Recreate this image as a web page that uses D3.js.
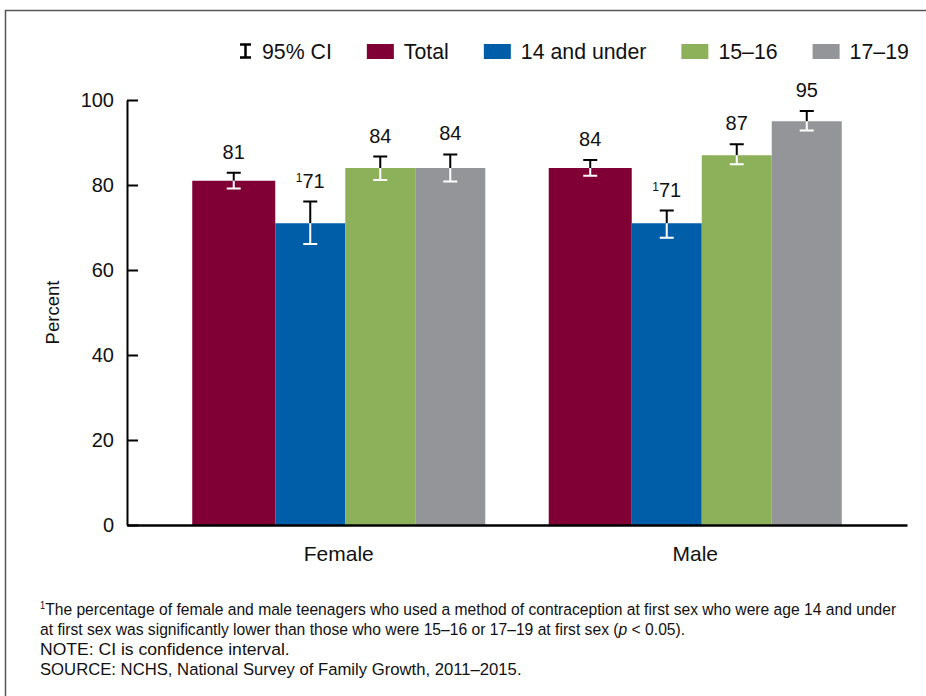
<!DOCTYPE html>
<html>
<head>
<meta charset="utf-8">
<script src="https://cdn.jsdelivr.net/npm/d3@7/dist/d3.min.js"></script>
<style>
  html, body { margin: 0; padding: 0; background: #fff; }
  svg { display: block; font-family: "Liberation Sans", Arial, Helvetica, sans-serif; }
  .note { font-family: "Liberation Sans Narrow", "Arial Narrow", "Liberation Sans", Arial, sans-serif; font-size: 17px; fill: #111; }
</style>
</head>
<body>
<svg id="chart" width="926" height="696"></svg>
<script>
// Contraceptive use at first sex, by sex and age at first sex
const categories = ["Female", "Male"];
const seriesNames = ["Total", "14 and under", "15–16", "17–19"];
const femaleValues = [81, 71, 84, 84];
const maleValues = [84, 71, 87, 95];
const femaleLower = [79.2, 66.1, 81.2, 80.8];
const femaleUpper = [82.9, 76.1, 86.7, 87.2];
const maleLower = [82.2, 67.6, 84.9, 92.8];
const maleUpper = [85.9, 74.0, 89.6, 97.4];
const footnoteFlags = [false, true, false, false];
const yTicks = [0, 20, 40, 60, 80, 100];
const seriesColors = ["#800036", "#005ea9", "#8db15a", "#949598"];

// Layout constants
const barWeights = [83, 70, 70, 70];   // the total bar is drawn a little wider
const plot = { left: 127, right: 907, top: 100, bottom: 525 };
const noteWidths = [857, 646, 250, 482]; // condensed footnote line widths

const rows = categories.map((c, i) => ({
  category: c,
  values: i === 0 ? femaleValues : maleValues,
  lower: i === 0 ? femaleLower : maleLower,
  upper: i === 0 ? femaleUpper : maleUpper
}));

const svg = d3.select("#chart");

// outer frame
svg.append("rect")
  .attr("x", 5.5).attr("y", 10.5).attr("width", 960).attr("height", 720)
  .attr("fill", "none").attr("stroke", "#555").attr("stroke-width", 1.5);

const y = d3.scaleLinear().domain([0, 100]).range([plot.bottom, plot.top]);
const x0 = d3.scaleBand().domain(categories)
  .range([plot.left, plot.right]).paddingInner(0.178).paddingOuter(0.183);

// inner positions from cumulative bar weights
const cum = [0];
barWeights.forEach(w => cum.push(cum[cum.length - 1] + w));
const x1 = d3.scaleLinear().domain([0, cum[cum.length - 1]]).range([0, x0.bandwidth()]);

const bars = [];
rows.forEach(r => {
  seriesNames.forEach((s, j) => {
    const xa = x0(r.category) + x1(cum[j]);
    const xb = x0(r.category) + x1(cum[j + 1]);
    bars.push({ series: s, j, value: r.values[j], lo: r.lower[j], hi: r.upper[j], xa, xb, cx: (xa + xb) / 2 });
  });
});

// bars
svg.append("g").selectAll("rect").data(bars).join("rect")
  .attr("x", d => d.xa).attr("y", d => y(d.value))
  .attr("width", d => d.xb - d.xa).attr("height", d => y(0) - y(d.value))
  .attr("fill", d => seriesColors[d.j]);

// error bars: black above the bar, white where they cross it
const capHalf = 7;
const eb = svg.append("g").attr("stroke-width", 2).attr("fill", "none");
eb.selectAll(".ebTop").data(bars).join("path")
  .attr("stroke", "#000")
  .attr("d", d => `M${d.cx - capHalf},${y(d.hi)}H${d.cx + capHalf}M${d.cx},${y(d.hi)}V${y(d.value)}`);
eb.selectAll(".ebBot").data(bars).join("path")
  .attr("stroke", "#fff")
  .attr("d", d => `M${d.cx},${y(d.value)}V${y(d.lo)}M${d.cx - capHalf},${y(d.lo)}H${d.cx + capHalf}`);

// value labels
const lbl = svg.append("g").attr("font-size", 20).attr("fill", "#111").attr("text-anchor", "middle");
lbl.selectAll("text").data(bars).join("text")
  .attr("x", d => d.cx).attr("y", d => y(d.hi) - 14)
  .each(function (d) {
    const t = d3.select(this);
    if (footnoteFlags[d.j]) {
      t.append("tspan").attr("font-size", 12).attr("dy", -6).text("1");
      t.append("tspan").attr("dy", 6).text(d.value);
    } else {
      t.text(d.value);
    }
  });

// y axis
const yAxis = d3.axisLeft(y).tickValues(yTicks).tickSizeInner(-11).tickSizeOuter(0).tickPadding(13);
const gy = svg.append("g").attr("transform", `translate(${plot.left},0)`).call(yAxis);
gy.select(".domain").attr("stroke", "#000").attr("stroke-width", 2);
gy.selectAll(".tick line").attr("stroke", "#000").attr("stroke-width", 2);
gy.selectAll(".tick text").attr("font-size", 20).attr("fill", "#111")
  .attr("font-family", "Liberation Sans, Arial, sans-serif");

// x axis
const xAxis = d3.axisBottom(x0).tickSize(0).tickPadding(21);
const gx = svg.append("g").attr("transform", `translate(0,${plot.bottom})`).call(xAxis);
gx.select(".domain").attr("stroke", "#000").attr("stroke-width", 2.5);
gx.selectAll(".tick text").attr("font-size", 21).attr("fill", "#111")
  .attr("font-family", "Liberation Sans, Arial, sans-serif");

// y title
svg.append("text")
  .attr("transform", `translate(59,${(plot.top + plot.bottom) / 2}) rotate(-90)`)
  .attr("text-anchor", "middle").attr("font-size", 18.5).attr("fill", "#111")
  .text("Percent");

// legend
const leg = svg.append("g").attr("font-size", 21.3).attr("fill", "#111");
const legBase = 59;
let lx = 240;
leg.append("path")
  .attr("d", `M${lx},44.5H${lx + 11}M${lx + 5.5},44.5V57.5M${lx},57.5H${lx + 11}`)
  .attr("stroke", "#000").attr("stroke-width", 2.5).attr("fill", "none");
let t = leg.append("text").attr("x", lx + 22).attr("y", legBase).text("95% CI");
lx = lx + 22 + t.node().getComputedTextLength() + 35;
seriesNames.forEach((s, j) => {
  leg.append("rect").attr("x", lx).attr("y", 44).attr("width", 27).attr("height", 15)
    .attr("fill", seriesColors[j]);
  const tt = leg.append("text").attr("x", lx + 37).attr("y", legBase).text(s);
  lx = lx + 37 + tt.node().getComputedTextLength() + 35;
});

// footnotes, condensed horizontally to their set widths
const notes = svg.append("g").attr("class", "note");
const noteX = 40;
const lines = [];
const n1 = notes.append("text").attr("y", 615);
n1.append("tspan").attr("font-size", 10).attr("dy", -6).text("1");
n1.append("tspan").attr("dy", 6).text("The percentage of female and male teenagers who used a method of contraception at first sex who were age 14 and under");
lines.push(n1);
const n2 = notes.append("text").attr("y", 635);
n2.append("tspan").text("at first sex was significantly lower than those who were 15–16 or 17–19 at first sex (");
n2.append("tspan").attr("font-style", "italic").text("p");
n2.append("tspan").text(" < 0.05).");
lines.push(n2);
lines.push(notes.append("text").attr("y", 655).text("NOTE: CI is confidence interval."));
lines.push(notes.append("text").attr("y", 675).text("SOURCE: NCHS, National Survey of Family Growth, 2011–2015."));
lines.forEach((ln, i) => {
  const w = ln.node().getBBox().width;
  ln.attr("transform", `translate(${noteX},0) scale(${noteWidths[i] / w},1)`);
});
</script>
</body>
</html>
